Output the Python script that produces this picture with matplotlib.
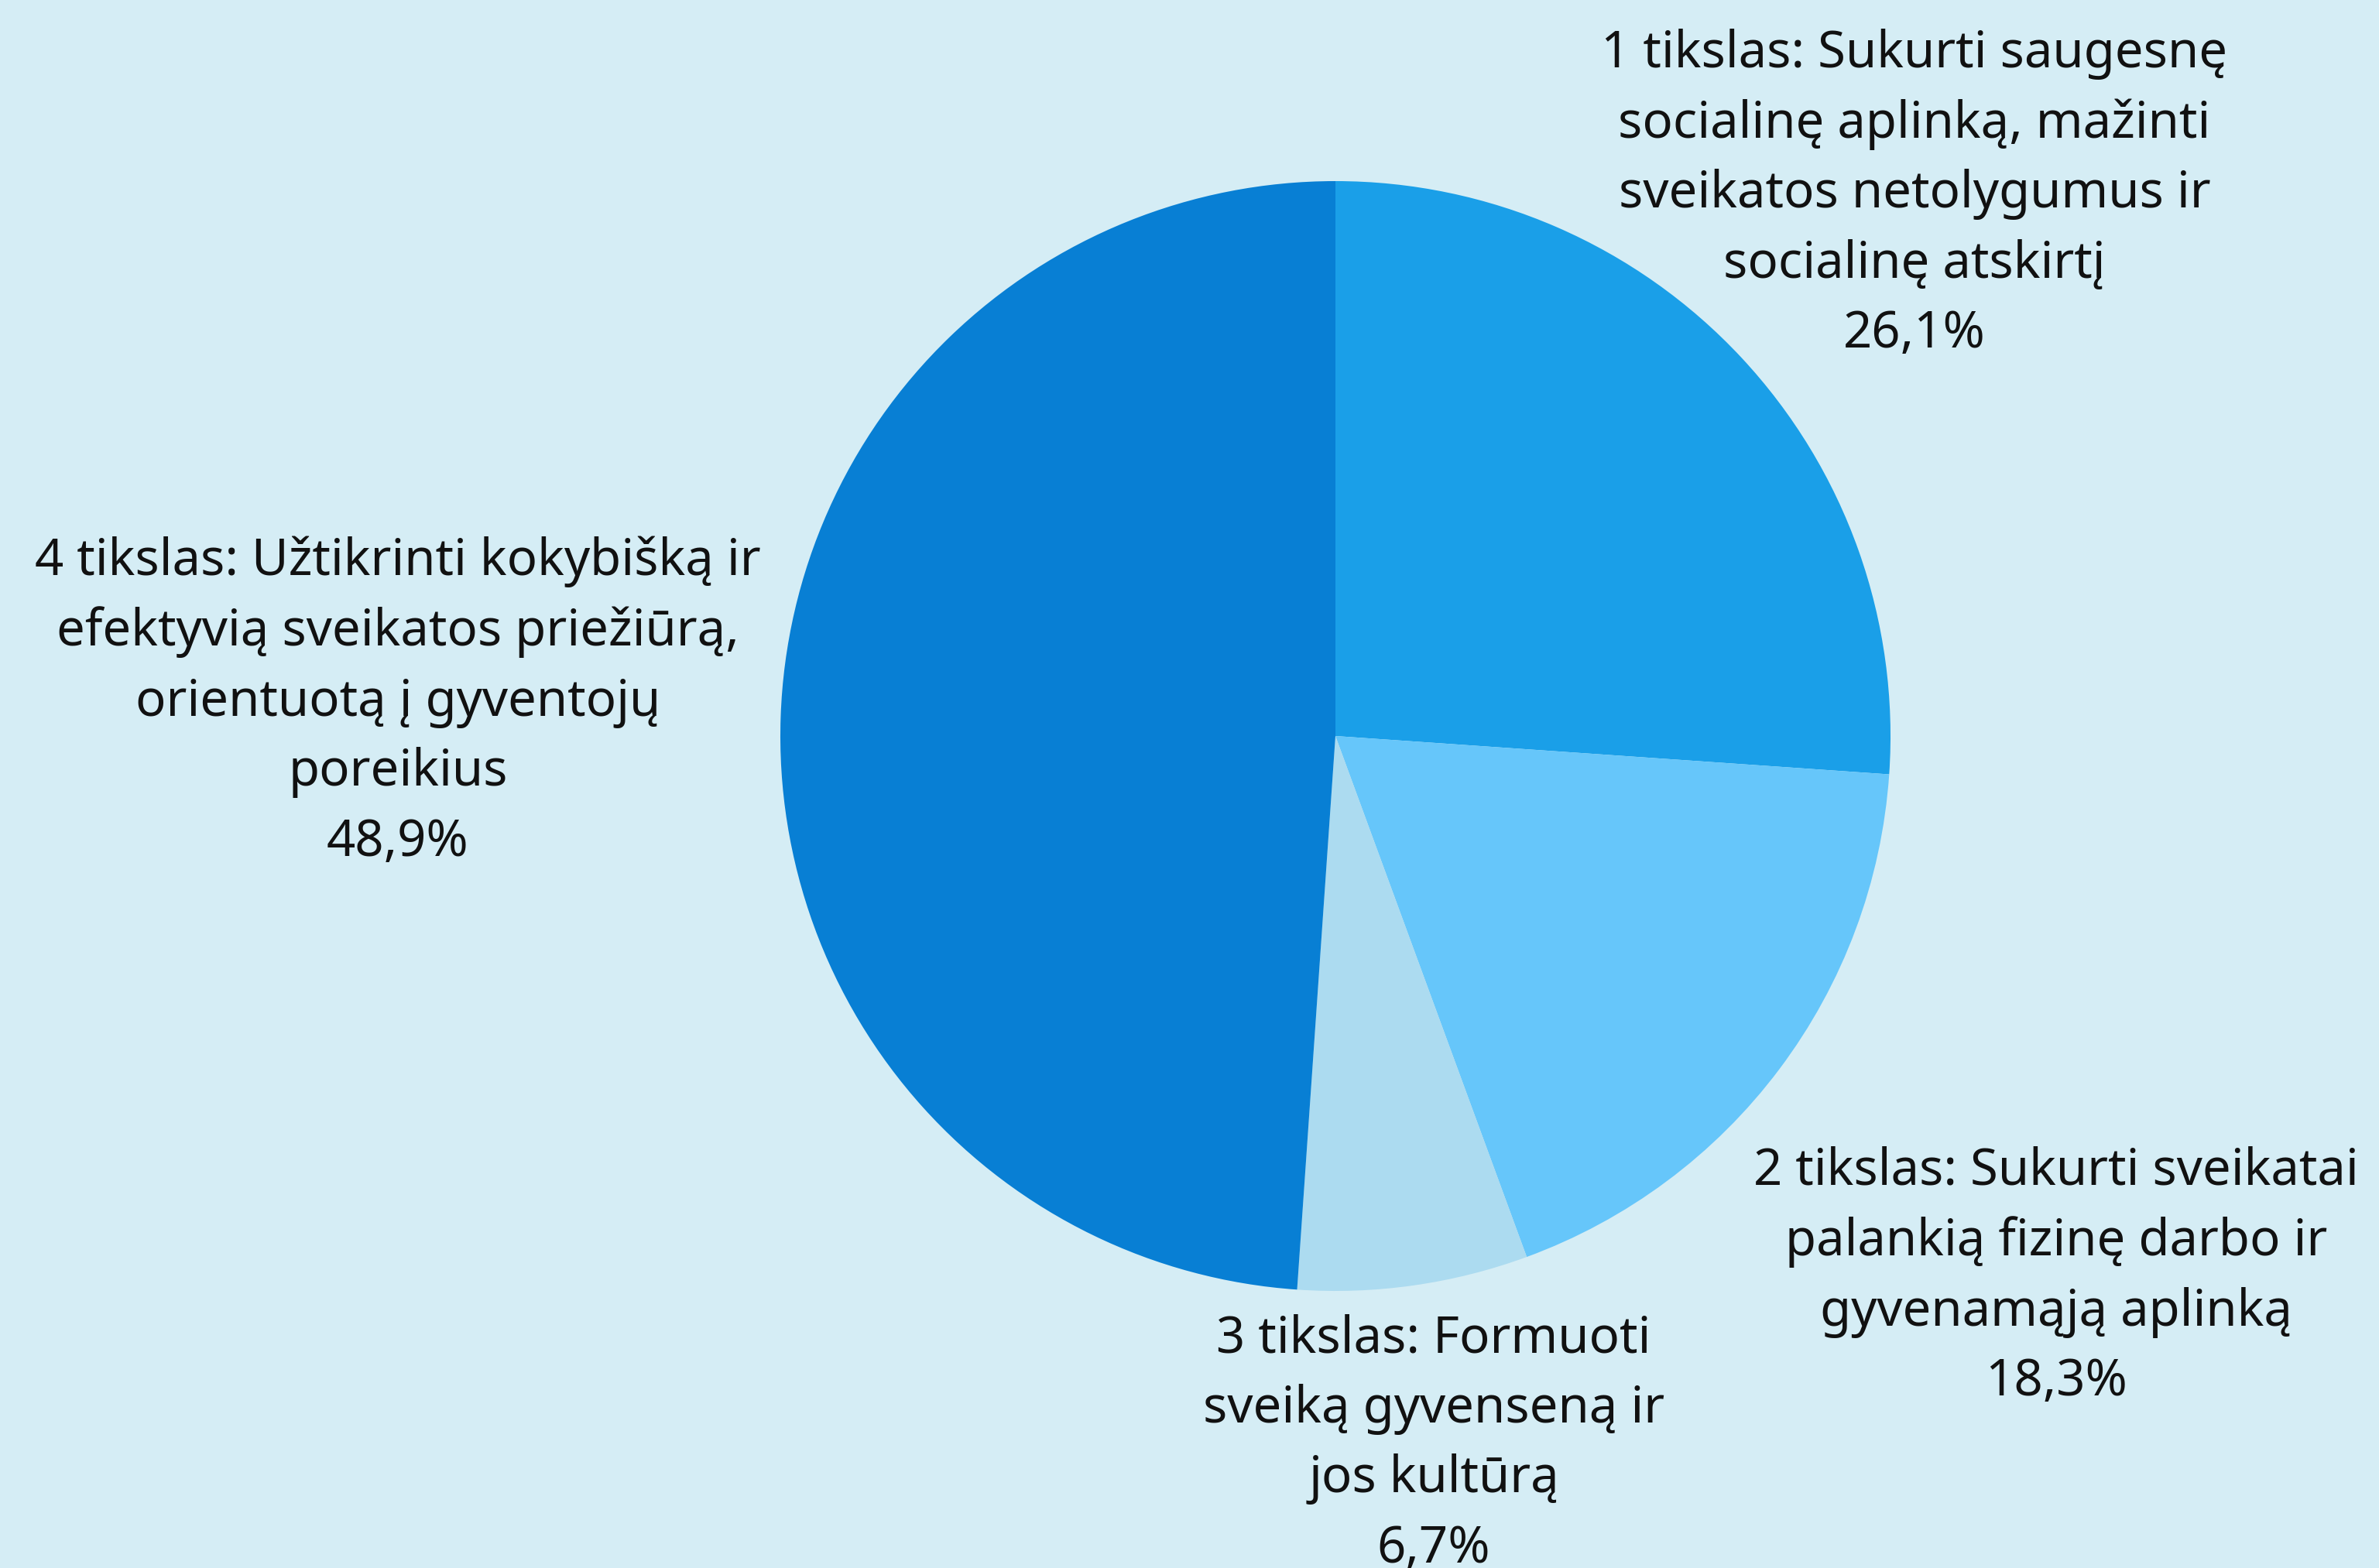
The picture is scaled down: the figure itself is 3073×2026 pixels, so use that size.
import matplotlib
matplotlib.use("Agg")
import matplotlib.pyplot as plt

# Data
labels = [
    "1 tikslas: Sukurti saugesnę\nsocialinę aplinką, mažinti\nsveikatos netolygumus ir\nsocialinę atskirtį\n26,1%",
    "2 tikslas: Sukurti sveikatai\npalankią fizinę darbo ir\ngyvenamąją aplinką\n18,3%",
    "3 tikslas: Formuoti\nsveiką gyvenseną ir\njos kultūrą\n6,7%",
    "4 tikslas: Užtikrinti kokybišką ir\nefektyvią sveikatos priežiūrą,\norientuotą į gyventojų\nporeikius\n48,9%",
]
shares = [26.1, 18.3, 6.7, 48.9]
colors = ["#1a9fe8", "#66c6fa", "#acdbf0", "#087fd4"]

# label anchor points (pixels from top-left of the 3073x2026 image)
label_x = [2473, 2656, 1852, 514]
label_y = [251, 1650, 1866, 907]

W, H = 3073, 2026
bg = "#d5edf5"

fig = plt.figure(figsize=(W / 100, H / 100), dpi=100, facecolor=bg)
ax = fig.add_axes([0, 0, 1, 1])
ax.set_facecolor(bg)

ax.pie(shares, colors=colors, startangle=90, counterclock=False,
       center=(1725, H - 951), radius=717, frame=True,
       wedgeprops=dict(linewidth=0))
ax.set_xlim(0, W)
ax.set_ylim(0, H)
ax.set_aspect("equal")
ax.axis("off")

for txt, x, y in zip(labels, label_x, label_y):
    ax.text(x, H - y, txt, ha="center", va="center", fontsize=47,
            linespacing=1.49, color="#111111",
            family=["Noto Sans", "DejaVu Sans"])

plt.savefig("out.png", dpi=100, facecolor=fig.get_facecolor())
plt.close()
